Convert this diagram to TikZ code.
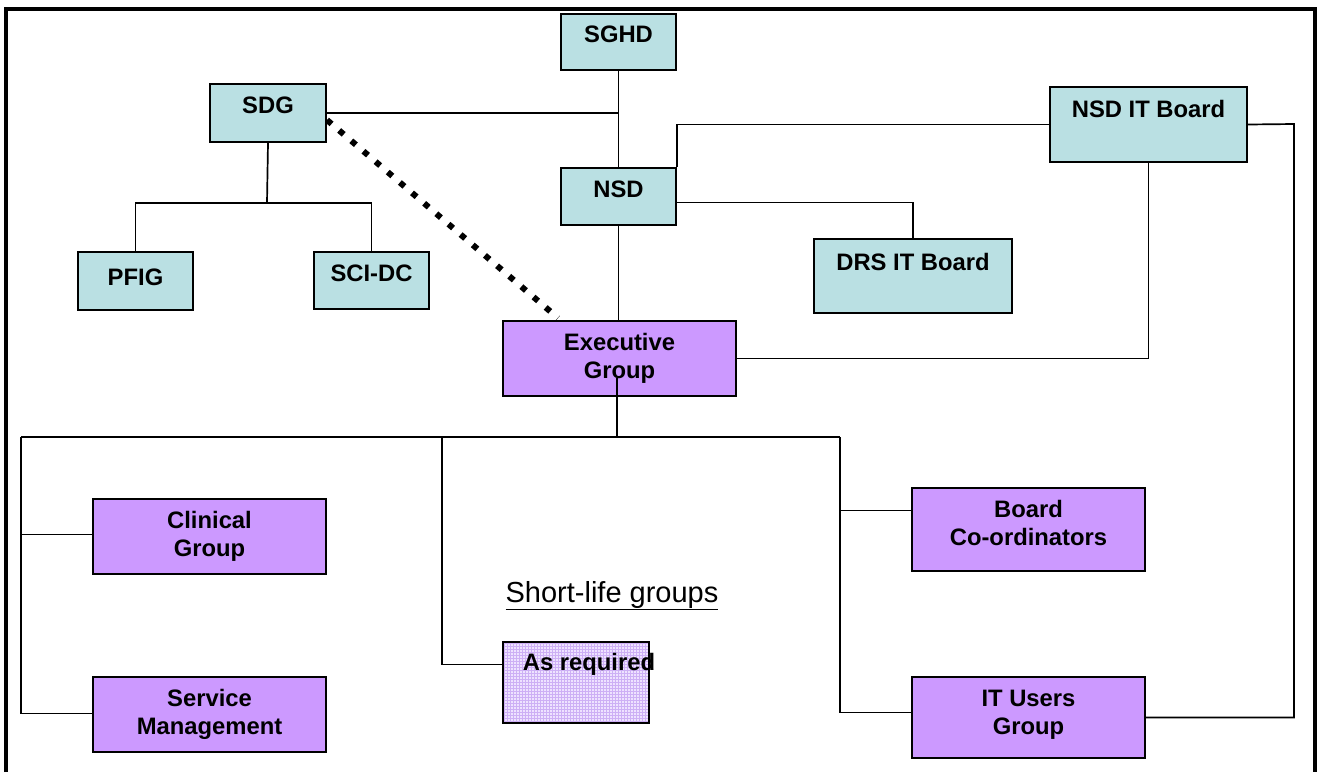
\documentclass[tikz,border=0pt]{standalone}
\usepackage{fontspec}
\setmainfont{Liberation Sans}
\usetikzlibrary{patterns}
\definecolor{tealbox}{RGB}{186,224,227}
\definecolor{purpbox}{RGB}{204,153,255}
\definecolor{lavbox}{RGB}{238,226,255}
\definecolor{lavgrid}{RGB}{205,175,245}
\begin{document}
\begin{tikzpicture}[x=1pt,y=-1pt,
  box/.style={draw=black, line width=2pt, anchor=north west, inner sep=0pt},
  tbox/.style={box, fill=tealbox},
  pbox/.style={box, fill=purpbox, minimum width=233pt, minimum height=75pt},
  lbl/.style={font=\fontsize{23.8}{28.5}\selectfont\bfseries, inner sep=0pt, anchor=base, align=center},
  conn/.style={draw=black, line width=1.7pt},
  dotline/.style={draw=black, line width=6pt, dash pattern=on 6pt off 10pt},
  frame/.style={draw=black, line width=4pt}
  ]
\useasboundingbox (0,0) rectangle (1317,772);
% frame
\draw[frame] (6,772) -- (6,9) -- (1315,9) -- (1315,772);

% teal boxes
\node[tbox, minimum width=115pt, minimum height=56pt] (sghd) at (560,13) {};
\node[tbox, minimum width=116pt, minimum height=58pt] (sdg) at (209,83) {};
\node[tbox, minimum width=115pt, minimum height=57pt] (nsd) at (560,167) {};
\node[tbox, minimum width=197pt, minimum height=75pt] (nsdit) at (1049,86) {};
\node[tbox, minimum width=115pt, minimum height=58pt] (pfig) at (77,251) {};
\node[tbox, minimum width=115pt, minimum height=57pt] (scidc) at (313,251) {};
\node[tbox, minimum width=198pt, minimum height=74pt] (drs) at (813,238) {};

% purple boxes
\node[pbox] (exec) at (502,320) {};
\node[pbox] (clin) at (92,498) {};
\node[pbox] (svc) at (92,676) {};
\node[pbox, minimum height=83pt] (boardco) at (911,487) {};
\node[pbox, minimum height=81pt] (itusers) at (911,676) {};
\node[box, minimum width=146pt, minimum height=81pt, preaction={fill=lavbox}, pattern=grid, pattern color=lavgrid] (asreq) at (502,641) {};

% labels (anchor=base is the last line's baseline)
\node[lbl] (sghd-t) at ([yshift=-29pt]sghd.north) {SGHD};
\node[lbl] (sdg-t) at ([yshift=-30pt]sdg.north) {SDG};
\node[lbl] (nsd-t) at ([yshift=-30pt]nsd.north) {NSD};
\node[lbl] (nsdit-t) at ([yshift=-31pt]nsdit.north) {NSD IT Board};
\node[lbl] (pfig-t) at ([yshift=-34pt]pfig.north) {PFIG};
\node[lbl] (scidc-t) at ([yshift=-30pt]scidc.north) {SCI-DC};
\node[lbl] (drs-t) at ([yshift=-32pt]drs.north) {DRS IT Board};
\node[lbl] (exec-t) at ([yshift=-58.5pt]exec.north) {Executive\\Group};
\node[lbl] (clin-t) at ([yshift=-58.5pt]clin.north) {Clinical\\Group};
\node[lbl] (svc-t) at ([yshift=-58.5pt]svc.north) {Service\\Management};
\node[lbl] (boardco-t) at ([yshift=-58.5pt]boardco.north) {Board\\Co-ordinators};
\node[lbl] (itusers-t) at ([yshift=-58.5pt]itusers.north) {IT Users\\Group};
\node[lbl] (asreq-t) at ([xshift=13pt,yshift=-29pt]asreq.north) {As required};
\node[inner sep=0pt, anchor=base, font=\fontsize{29}{34}\selectfont] (short) at (612,602) {\underline{Short-life groups}};

% coordinates
\coordinate (sdgj) at (267,203);
\coordinate (rightrun) at (1294,124);
\coordinate (execin) at (617,378);
\coordinate (busmid) at (617,437);
\coordinate (busw) at (21,437);
\coordinate (busar) at (442,437);
\coordinate (buse) at (840,437);
\coordinate (dotstart) at (327,120);
\coordinate (dotend) at (558,318);

% connectors
\draw[conn] (sghd.south) -- (nsd.north);
\draw[conn] (sdg.east) -- (sdg.east -| sghd.south);
\draw[conn] (sdg.south) -- (sdgj);
\draw[conn] (pfig.north) |- (sdgj) -| (scidc.north);
\draw[dotline] (dotstart) -- (dotend);
\draw[conn] (nsd.north east) |- (nsdit.west);
\draw[conn] ([yshift=-6pt]nsd.east) -| (drs.north);
\draw[conn] (nsd.south) -- (nsd.south |- exec.north);
\draw[conn] (nsdit.south) |- (exec.east);
\draw[conn] (nsdit.east) -- (rightrun) |- (itusers.east);
\draw[conn] (busw) -- (buse);
\draw[conn] (busw) |- ([yshift=1pt]svc.west);
\draw[conn] ([yshift=2pt]clin.west) -- ([yshift=2pt]clin.west -| busw);
\draw[conn] (busar) |- ([yshift=18pt]asreq.west);
\draw[conn] (buse) |- ([yshift=5pt]itusers.west);
\draw[conn] ([yshift=19pt]boardco.west) -- ([yshift=19pt]boardco.west -| buse);
\draw[conn] (execin) -- (busmid);
\end{tikzpicture}
\end{document}
